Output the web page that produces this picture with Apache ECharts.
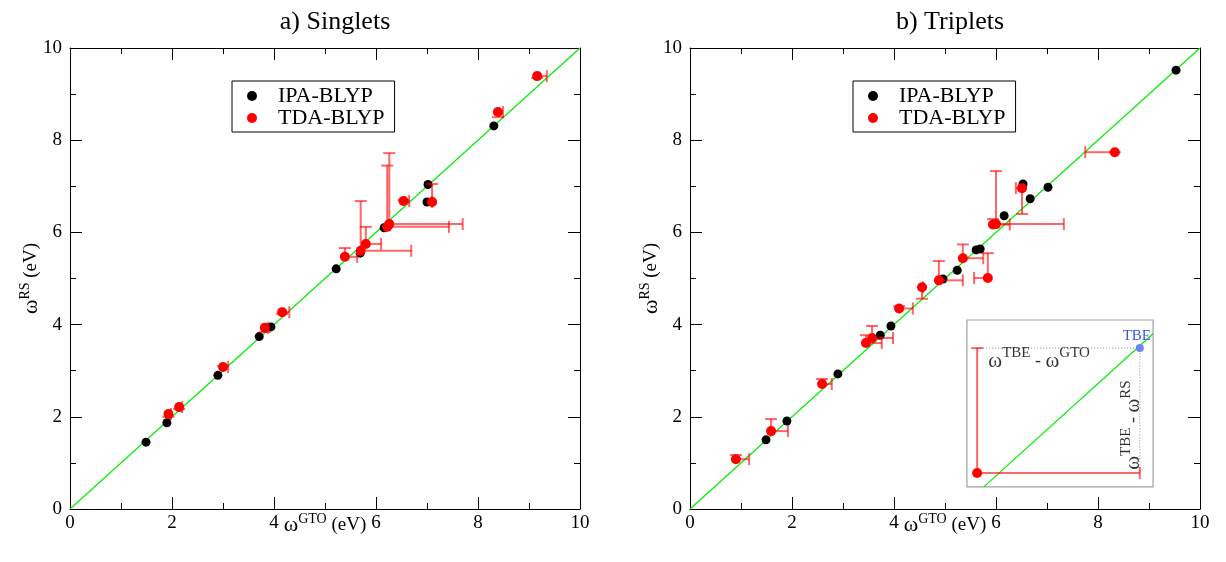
<!DOCTYPE html>
<html><head><meta charset="utf-8">
<script src="https://cdn.jsdelivr.net/npm/echarts@6/dist/echarts.min.js"></script>
<style>html,body{margin:0;padding:0;background:#fff}#c{width:1226px;height:562px}</style>
</head><body><div id="c"></div>
<script>
// ---- data ----
const titles = ['a) Singlets', 'b) Triplets'];
const legendNames = ['IPA-BLYP', 'TDA-BLYP'];
const diagonal = [[0, 0], [10, 10]];
// Singlets: IPA-BLYP [GTO, RS]
const singIPA = [[1.49,1.45],[1.90,1.87],[2.90,2.90],[3.71,3.74],[3.94,3.95],[5.22,5.21],[5.69,5.55],[6.16,6.10],[7.02,7.04],[7.00,6.66],[8.31,8.31]];
// Singlets: TDA-BLYP [GTO, RS, TBE-x, TBE-y]
const singTDA = [[1.93,2.06,1.98,2.00],[2.14,2.21,2.20,2.17],[3.00,3.08,3.10,3.10],[3.82,3.93,3.88,3.84],[4.16,4.27,4.30,4.23],
  [5.39,5.47,5.63,5.66],[5.70,5.60,6.69,6.68],[5.80,5.75,6.10,6.12],[6.22,6.12,7.43,7.45],[6.26,6.18,7.70,7.72],
  [6.54,6.68,6.65,6.70],[7.10,6.66,7.10,7.05],[8.39,8.61,8.49,8.50],[9.16,9.39,9.35,9.35]];
// Triplets: IPA-BLYP
const tripIPA = [[1.49,1.50],[1.90,1.91],[2.90,2.93],[3.73,3.77],[3.94,3.97],[4.96,4.99],[5.24,5.18],[5.61,5.62],[5.69,5.64],[6.16,6.36],[6.53,7.05],[6.67,6.73],[7.02,6.98],[9.53,9.52]];
// Triplets: TDA-BLYP
const tripTDA = [[0.90,1.08,1.16,1.17],[1.59,1.69,1.92,1.95],[2.59,2.71,2.78,2.82],[3.45,3.60,3.76,3.77],[3.57,3.71,3.98,3.97],
  [4.10,4.35,4.37,4.40],[4.55,4.81,4.57,4.56],[4.88,4.96,5.35,5.38],[5.35,5.44,5.75,5.74],[5.84,5.01,5.57,5.55],
  [5.94,6.17,6.27,6.29],[6.00,6.18,7.33,7.33],[6.51,6.96,6.39,6.40],[8.33,7.74,7.75,7.74]];
// Inset sketch (in triplet-panel data units)
const insetBox = [[5.43, 4.10, 9.08, 0.48]];
const insetPoint = [[5.63, 0.78, 8.82, 3.49]];
const insetTBE = [[8.82, 3.49]];
const insetGuide = [[5.63, 3.49], [8.82, 3.49], [8.82, 0.78]];
const insetDiag = [[5.76, 0.48], [9.08, 3.80]];
const insetLabelH = [[5.85, 3.20]];
const insetLabelV = [[8.70, 1.82]];

// ---- chart ----
const FF = 'Liberation Serif';
const chart = echarts.init(document.getElementById('c'), null, {renderer: 'canvas'});
const grids = [
  {left: 70, top: 48, width: 510, height: 461, outerBoundsMode: 'none', containLabel: false},
  {left: 690, top: 48, width: 510, height: 461, outerBoundsMode: 'none', containLabel: false}
];
const supRich = {
  w: {fontFamily: FF, fontSize: 22, color: '#000'},
  s: {fontFamily: FF, fontSize: 14, color: '#000', padding: [0, 0, 13, 0]},
  t: {fontFamily: FF, fontSize: 19, color: '#000'}
};
function mkX(g, pos, name) {
  return {
    type: 'value', gridIndex: g, position: pos, min: 0, max: 10, interval: 2,
    axisLine: {show: true, onZero: false, lineStyle: {color: '#000', width: 1}},
    axisTick: {show: true, inside: true, length: 12, lineStyle: {color: '#000'}},
    minorTick: {show: true, splitNumber: 2, length: 6, lineStyle: {color: '#000'}},
    splitLine: {show: false},
    axisLabel: {show: pos === 'bottom', fontFamily: FF, fontSize: 19, color: '#000', margin: 5},
    name: name, nameLocation: 'middle', nameGap: 3, nameMoveOverlap: false,
    nameTextStyle: {rich: supRich}
  };
}
function mkY(g, pos, name) {
  return {
    type: 'value', gridIndex: g, position: pos, min: 0, max: 10, interval: 2,
    axisLine: {show: true, onZero: false, lineStyle: {color: '#000', width: 1}},
    axisTick: {show: true, inside: true, length: 12, lineStyle: {color: '#000'}},
    minorTick: {show: true, splitNumber: 2, length: 6, lineStyle: {color: '#000'}},
    splitLine: {show: false},
    axisLabel: {show: pos === 'left', fontFamily: FF, fontSize: 19, color: '#000', margin: 8},
    name: name, nameLocation: 'middle', nameGap: 25, nameRotate: 90, nameMoveOverlap: false,
    nameTextStyle: {rich: supRich}
  };
}
const xName = '{w|ω}{s|GTO}{t| (eV)}';
const yName = '{w|ω}{s|RS}{t| (eV)}';

function errRender(params, api) {
  const x = api.value(0), y = api.value(1), tx = api.value(2), ty = api.value(3);
  const p = api.coord([x, y]);
  const ph = api.coord([tx, y]);
  const pv = api.coord([x, ty]);
  const st = {stroke: 'rgba(255,0,0,0.6)', lineWidth: 2};
  const c = 6;
  return {type: 'group', children: [
    {type: 'line', shape: {x1: p[0], y1: p[1], x2: ph[0], y2: ph[1]}, style: st},
    {type: 'line', shape: {x1: ph[0], y1: ph[1] - c, x2: ph[0], y2: ph[1] + c}, style: st},
    {type: 'line', shape: {x1: p[0], y1: p[1], x2: pv[0], y2: pv[1]}, style: st},
    {type: 'line', shape: {x1: pv[0] - c, y1: pv[1], x2: pv[0] + c, y2: pv[1]}, style: st}
  ]};
}
function rectRender(params, api) {
  const a = api.coord([api.value(0), api.value(1)]);
  const b = api.coord([api.value(2), api.value(3)]);
  return {type: 'rect', shape: {x: a[0], y: a[1], width: b[0] - a[0], height: b[1] - a[1]},
    style: {fill: '#fff', stroke: '#a0a0a0', lineWidth: 1.2}};
}

const series = [];
[[singIPA, singTDA, 0], [tripIPA, tripTDA, 2]].forEach(([ipa, tda, ax]) => {
  series.push({type: 'line', xAxisIndex: ax, yAxisIndex: ax, data: diagonal, symbol: 'none',
    lineStyle: {color: '#00ee00', width: 1.2}, silent: true, z: 1, animation: false});
  series.push({name: legendNames[0], type: 'scatter', xAxisIndex: ax, yAxisIndex: ax, data: ipa,
    symbolSize: 9, itemStyle: {color: '#000', opacity: 1}, z: 3, animation: false});
  series.push({type: 'custom', xAxisIndex: ax, yAxisIndex: ax, data: tda, renderItem: errRender,
    encode: {x: [0, 2], y: [1, 3]}, z: 4, silent: true, animation: false});
  series.push({name: legendNames[1], type: 'scatter', xAxisIndex: ax, yAxisIndex: ax,
    data: tda.map(d => [d[0], d[1]]), symbolSize: 10, itemStyle: {color: '#ff0000', opacity: 1}, z: 5, animation: false});
});
// inset
series.push({type: 'custom', xAxisIndex: 2, yAxisIndex: 2, data: insetBox, renderItem: rectRender,
  encode: {x: [0, 2], y: [1, 3]}, z: 6, silent: true, animation: false});
series.push({type: 'line', xAxisIndex: 2, yAxisIndex: 2, data: insetDiag, symbol: 'none',
  lineStyle: {color: '#00ee00', width: 1.2}, z: 7, silent: true, animation: false});
series.push({type: 'line', xAxisIndex: 2, yAxisIndex: 2, data: insetGuide, symbol: 'none',
  lineStyle: {color: '#888', width: 1, type: [1, 2]}, z: 7, silent: true, animation: false});
series.push({type: 'custom', xAxisIndex: 2, yAxisIndex: 2, data: insetPoint, renderItem: errRender,
  encode: {x: [0, 2], y: [1, 3]}, z: 8, silent: true, animation: false});
series.push({type: 'scatter', xAxisIndex: 2, yAxisIndex: 2, data: insetPoint.map(d => [d[0], d[1]]),
  symbolSize: 10, itemStyle: {color: '#ff0000', opacity: 1}, z: 9, silent: true, animation: false});
series.push({type: 'scatter', xAxisIndex: 2, yAxisIndex: 2, data: insetTBE, symbolSize: 8,
  itemStyle: {color: '#6f86ee', opacity: 1}, z: 9, silent: true, animation: false,
  label: {show: true, position: 'top', distance: 1, offset: [-3, 0], formatter: 'TBE',
    fontFamily: FF, fontSize: 15, color: '#3b55e6'}});
series.push({type: 'scatter', xAxisIndex: 2, yAxisIndex: 2, data: insetLabelH, symbolSize: 0,
  z: 9, silent: true, animation: false,
  label: {show: true, position: 'right', distance: 0, formatter: '{w|ω}{s|TBE}{t| - }{w|ω}{s|GTO}',
    rich: {w: {fontFamily: FF, fontSize: 21, color: '#000'}, s: {fontFamily: FF, fontSize: 15, color: '#000', padding: [0, 0, 16, 0]}, t: {fontFamily: FF, fontSize: 18, color: '#000'}}}});
series.push({type: 'scatter', xAxisIndex: 2, yAxisIndex: 2, data: insetLabelV, symbolSize: 0,
  z: 9, silent: true, animation: false,
  label: {show: true, position: 'inside', rotate: 90, formatter: '{w|ω}{s|TBE}{t| - }{w|ω}{s|RS}',
    rich: {w: {fontFamily: FF, fontSize: 21, color: '#000'}, s: {fontFamily: FF, fontSize: 15, color: '#000', padding: [0, 0, 16, 0]}, t: {fontFamily: FF, fontSize: 18, color: '#000'}}}});

function mkLegend(left) {
  return {left: left, top: 81, orient: 'vertical', data: legendNames, icon: 'circle',
    itemWidth: 10, itemHeight: 10, itemGap: 0, padding: [4, 10, 3, 15],
    borderColor: '#000', borderWidth: 1, backgroundColor: '#fff',
    textStyle: {fontFamily: FF, fontSize: 22, color: '#000', padding: [0, 0, 0, 16], lineHeight: 19},
    selectedMode: false};
}

chart.setOption({
  animation: false,
  backgroundColor: '#fff',
  title: [
    {text: titles[0], left: 330, top: 4, textAlign: 'center', textStyle: {fontFamily: FF, fontSize: 26, fontWeight: 'normal', color: '#000'}},
    {text: titles[1], left: 945, top: 4, textAlign: 'center', textStyle: {fontFamily: FF, fontSize: 26, fontWeight: 'normal', color: '#000'}}
  ],
  grid: grids,
  legend: [mkLegend(232), mkLegend(853)],
  xAxis: [mkX(0, 'bottom', xName), mkX(0, 'top', ''), mkX(1, 'bottom', xName), mkX(1, 'top', '')],
  yAxis: [mkY(0, 'left', yName), mkY(0, 'right', ''), mkY(1, 'left', yName), mkY(1, 'right', '')],
  series: series
});
</script></body></html>
